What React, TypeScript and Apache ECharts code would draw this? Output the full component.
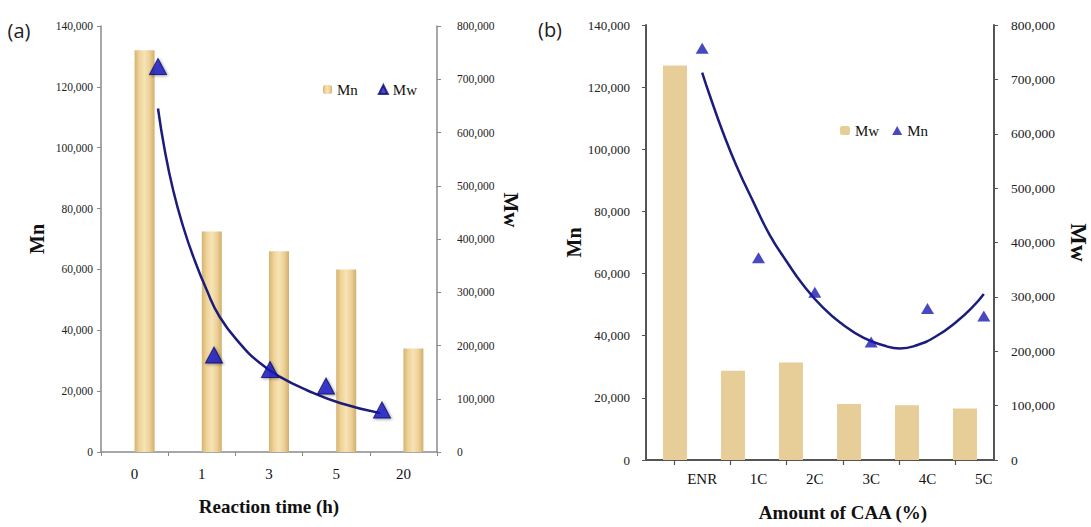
import React, { useEffect, useRef } from 'react';
import * as echarts from 'echarts';

// ---------- Data: panel (a) reaction time ----------
const timeCats = ['0', '1', '3', '5', '20'];
const mnTime = [132000, 72500, 66000, 60000, 34000];
const mwTime = [724000, 182000, 155000, 124000, 79000];
const fitTimeX = [0, 0.12, 0.27, 0.45, 0.63, 0.87, 1.1, 1.46, 1.82, 2.18, 2.66, 3.25, 3.97];
const fitTimeY = [645000, 567000, 492000, 423000, 367000, 304000, 254000, 204000, 167000, 141000, 116000, 92000, 73000];

// ---------- Data: panel (b) amount of CAA ----------
const caaCats = ['ENR', '1C', '2C', '3C', '4C', '5C'];
const mwCaa = [127000, 28700, 31400, 18000, 17600, 16600];
const mnCaa = [757000, 369000, 305000, 213000, 275000, 261000];
const fitCaaX = [0, 0.14, 0.37, 0.61, 0.91, 1.2, 1.5, 1.79, 2.15, 2.5, 2.86, 3.21, 3.51, 3.81, 4.16, 4.52, 4.81, 5.0];
const fitCaaY = [712000, 668000, 601000, 539000, 472000, 411000, 362000, 319000, 276000, 245000, 221000, 207000, 201000, 207000, 224000, 251000, 279000, 302000];

const SERIF = '"Liberation Serif", "Times New Roman", serif';
const fmt = (v: number) => String(v).replace(/\B(?=(\d{3})+(?!\d))/g, ',');

const leftBarColor = new echarts.graphic.LinearGradient(0, 0, 1, 0, [
  { offset: 0, color: '#d6b370' },
  { offset: 0.25, color: '#efd49a' },
  { offset: 0.5, color: '#f6e3b6' },
  { offset: 0.75, color: '#edd196' },
  { offset: 1, color: '#d3ae6b' },
]);

function buildOption(): any {
  const axisGrayA = '#8a8a8a';
  const axisGrayB = '#555555';
  return {
    animation: false,
    backgroundColor: '#ffffff',
    grid: [
      { left: 101, top: 26, width: 336, height: 426 },
      { left: 111, top: 26, width: 336, height: 426 },
      { left: 158, top: 26, width: 224, height: 426 },
      { left: 646, top: 25, width: 357, height: 435 },
      { left: 674, top: 25, width: 338, height: 435 },
      { left: 674, top: 25, width: 281.7, height: 435 },
    ],
    legend: [
      {
        data: ['Mn', 'Mw'],
        left: 318,
        top: 77,
        itemWidth: 9,
        itemHeight: 9,
        itemGap: 20,
        textStyle: { fontFamily: SERIF, fontSize: 15, color: '#111' },
        selectedMode: false,
      },
      {
        data: ['Mw CAA', 'Mn CAA'],
        left: 835,
        top: 118,
        itemWidth: 10,
        itemHeight: 9,
        itemGap: 13,
        formatter: (n: string) => n.split(' ')[0],
        textStyle: { fontFamily: SERIF, fontSize: 15, color: '#111' },
        selectedMode: false,
      },
    ],
    xAxis: [
      {
        gridIndex: 0,
        type: 'category',
        data: timeCats,
        axisLine: { lineStyle: { color: axisGrayA, width: 1.5 } },
        axisTick: { show: true, length: 4, lineStyle: { color: axisGrayA } },
        axisLabel: { fontFamily: SERIF, fontSize: 15, color: '#111', margin: 14 },
        name: 'Reaction time (h)',
        nameLocation: 'middle',
        nameGap: 45,
        nameTextStyle: { fontFamily: SERIF, fontSize: 19, fontWeight: 'bold', color: '#111' },
      },
      { gridIndex: 1, type: 'category', data: timeCats, show: false },
      { gridIndex: 2, type: 'value', min: 0, max: 4, show: false },
      {
        gridIndex: 3,
        type: 'category',
        data: caaCats,
        axisLine: { lineStyle: { color: axisGrayB, width: 2 } },
        axisTick: { show: false },
        axisLabel: { show: false },
      },
      {
        gridIndex: 4,
        type: 'category',
        data: caaCats,
        axisLine: { show: false },
        axisTick: { show: false },
        axisLabel: { fontFamily: SERIF, fontSize: 15, color: '#111', margin: 14 },
        name: 'Amount of CAA (%)',
        nameLocation: 'middle',
        nameGap: 46,
        nameTextStyle: { fontFamily: SERIF, fontSize: 19, fontWeight: 'bold', color: '#111' },
      },
      { gridIndex: 4, type: 'value', min: -0.5, max: 5.5, show: false },
      {
        gridIndex: 5,
        type: 'value',
        min: 0,
        max: 5,
        interval: 1,
        axisLine: { show: false },
        axisTick: { show: true, length: 5, lineStyle: { color: axisGrayB, width: 1.2 } },
        axisLabel: { show: false },
        splitLine: { show: false },
      },
    ],
    yAxis: [
      {
        gridIndex: 0,
        type: 'value',
        position: 'left',
        min: 0,
        max: 140000,
        interval: 20000,
        splitLine: { show: false },
        axisLine: { show: true, lineStyle: { color: axisGrayA, width: 1.5 } },
        axisTick: { show: true, length: 4, lineStyle: { color: axisGrayA } },
        axisLabel: { fontFamily: SERIF, fontSize: 11.5, color: '#222', margin: 8, formatter: fmt },
        name: 'Mn',
        nameLocation: 'middle',
        nameGap: 54,
        nameRotate: 90,
        nameTextStyle: { fontFamily: SERIF, fontSize: 20, fontWeight: 'bold', color: '#111' },
      },
      {
        gridIndex: 0,
        type: 'value',
        position: 'right',
        min: 0,
        max: 800000,
        interval: 100000,
        splitLine: { show: false },
        axisLine: { show: true, lineStyle: { color: axisGrayA, width: 1.5 } },
        axisTick: { show: true, length: 4, lineStyle: { color: axisGrayA } },
        axisLabel: { fontFamily: SERIF, fontSize: 11.5, color: '#222', margin: 20, formatter: fmt },
        name: 'Mw',
        nameLocation: 'middle',
        nameGap: 63,
        nameRotate: -90,
        nameTextStyle: { fontFamily: SERIF, fontSize: 21, fontWeight: 'bold', color: '#111', padding: [0, 58, 0, 0] },
      },
      { gridIndex: 1, type: 'value', min: 0, max: 140000, show: false },
      { gridIndex: 2, type: 'value', min: 0, max: 800000, show: false },
      {
        gridIndex: 3,
        type: 'value',
        position: 'left',
        min: 0,
        max: 140000,
        interval: 20000,
        splitLine: { show: false },
        axisLine: { show: true, lineStyle: { color: axisGrayB, width: 2 } },
        axisTick: { show: true, length: 4, lineStyle: { color: axisGrayB } },
        axisLabel: { fontFamily: SERIF, fontSize: 13, color: '#222', margin: 16, formatter: fmt },
        name: 'Mn',
        nameLocation: 'middle',
        nameGap: 60,
        nameRotate: 90,
        nameTextStyle: { fontFamily: SERIF, fontSize: 20, fontWeight: 'bold', color: '#111' },
      },
      {
        gridIndex: 3,
        type: 'value',
        position: 'right',
        min: 0,
        max: 800000,
        interval: 100000,
        splitLine: { show: false },
        axisLine: { show: true, lineStyle: { color: axisGrayB, width: 2 } },
        axisTick: { show: true, length: 4, lineStyle: { color: axisGrayB } },
        axisLabel: { fontFamily: SERIF, fontSize: 13.5, color: '#222', margin: 17, formatter: fmt },
        name: 'Mw',
        nameLocation: 'middle',
        nameGap: 73,
        nameRotate: -90,
        nameTextStyle: { fontFamily: SERIF, fontSize: 23, fontWeight: 'bold', color: '#111' },
      },
      { gridIndex: 4, type: 'value', min: 0, max: 800000, show: false },
      { gridIndex: 5, type: 'value', min: 0, max: 1, show: false },
    ],
    series: [
      {
        name: 'Mn',
        type: 'bar',
        xAxisIndex: 1,
        yAxisIndex: 2,
        barWidth: 20,
        data: mnTime,
        itemStyle: { color: leftBarColor },
      },
      {
        name: 'Mw',
        type: 'scatter',
        xAxisIndex: 2,
        yAxisIndex: 3,
        symbol: 'triangle',
        symbolSize: [17, 16],
        z: 5,
        itemStyle: {
          color: '#1818c4',
          borderColor: '#0b0b6a',
          borderWidth: 1,
          shadowBlur: 3,
          shadowColor: 'rgba(0,0,0,0.45)',
          shadowOffsetX: 1,
          shadowOffsetY: 1,
        },
        data: mwTime.map((v, i) => [i, v]),
      },
      {
        name: 'Mw fit',
        type: 'line',
        xAxisIndex: 2,
        yAxisIndex: 3,
        smooth: true,
        showSymbol: false,
        z: 3,
        lineStyle: { color: '#1c1c7c', width: 2.5 },
        data: fitTimeX.map((x, i) => [x, fitTimeY[i]]),
      },
      {
        name: 'Mw CAA',
        type: 'bar',
        xAxisIndex: 3,
        yAxisIndex: 4,
        barWidth: 24,
        data: mwCaa,
        itemStyle: { color: '#e7cd97' },
      },
      {
        name: 'Mn CAA',
        type: 'scatter',
        xAxisIndex: 4,
        yAxisIndex: 6,
        symbol: 'triangle',
        symbolSize: [13, 11],
        z: 5,
        itemStyle: { color: '#1a1ab0' },
        data: mnCaa,
      },
      {
        name: 'Mn CAA fit',
        type: 'line',
        xAxisIndex: 5,
        yAxisIndex: 6,
        smooth: true,
        showSymbol: false,
        z: 3,
        lineStyle: { color: '#1c1c7c', width: 2.5 },
        data: fitCaaX.map((x, i) => [x, fitCaaY[i]]),
      },
    ],
    graphic: [
      {
        type: 'text',
        x: 19,
        y: 30,
        style: {
          text: '(a)',
          font: '20px "Open Sans", "Liberation Sans", sans-serif',
          fill: '#222',
          textAlign: 'center',
          textVerticalAlign: 'middle',
        },
      },
      {
        type: 'text',
        x: 550,
        y: 29,
        style: {
          text: '(b)',
          font: '20px "Open Sans", "Liberation Sans", sans-serif',
          fill: '#222',
          textAlign: 'center',
          textVerticalAlign: 'middle',
        },
      },
    ],
  };
}

export default function App() {
  const ref = useRef<HTMLDivElement>(null);
  useEffect(() => {
    if (!ref.current) return;
    const chart = echarts.init(ref.current, undefined, { renderer: 'svg' });
    chart.setOption(buildOption());
    return () => chart.dispose();
  }, []);
  return (
    <div
      ref={ref}
      style={{ position: 'fixed', left: 0, top: 0, width: 1091, height: 527, background: '#fff' }}
    />
  );
}
